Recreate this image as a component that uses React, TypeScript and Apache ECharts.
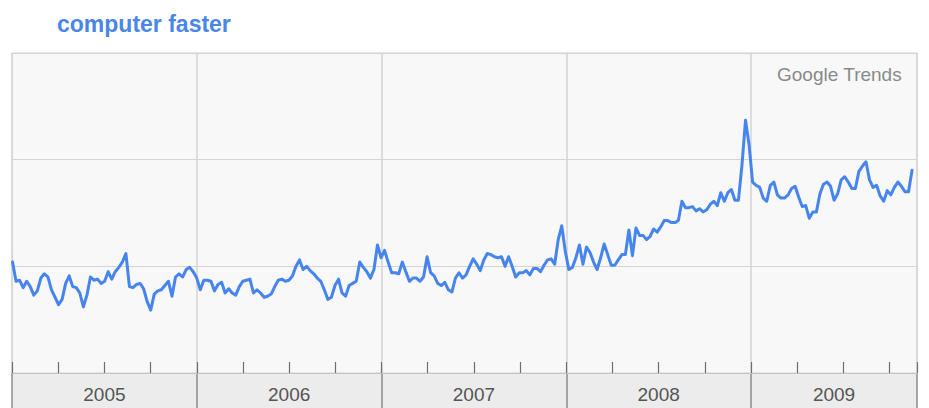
import React, { useEffect, useRef } from "react";
import * as echarts from "echarts";

// ---- data ----
const chartTitle = "computer faster";
const sourceLabel = "Google Trends";
const yearLabels = ["2005", "2006", "2007", "2008", "2009"];
const firstWeek = Date.UTC(2005, 0, 2); // first weekly sample (Sunday)
// relative search volume, one value per week
const weeklyInterest = [
  1.04, 0.86, 0.87, 0.80, 0.86, 0.81, 0.73, 0.77, 0.89, 0.93,
  0.90, 0.78, 0.71, 0.64, 0.69, 0.84, 0.91, 0.81, 0.80, 0.75,
  0.62, 0.73, 0.90, 0.87, 0.88, 0.84, 0.86, 0.95, 0.88, 0.95,
  0.99, 1.04, 1.12, 0.81, 0.80, 0.83, 0.84, 0.79, 0.67, 0.59,
  0.74, 0.77, 0.78, 0.82, 0.86, 0.72, 0.90, 0.93, 0.90, 0.97,
  0.99, 0.95,
  0.89, 0.78, 0.87, 0.87, 0.86, 0.77, 0.83, 0.85, 0.75, 0.79,
  0.75, 0.73, 0.81, 0.86, 0.87, 0.88, 0.75, 0.78, 0.75, 0.71,
  0.72, 0.74, 0.81, 0.87, 0.88, 0.86, 0.87, 0.91, 1.00, 1.06,
  0.97, 1.00, 0.96, 0.93, 0.89, 0.86, 0.78, 0.69, 0.71, 0.82,
  0.88, 0.75, 0.72, 0.82, 0.84, 0.86, 1.04, 0.99, 0.95, 0.89,
  0.97, 1.20,
  1.08, 1.15, 1.04, 0.94, 0.94, 0.93, 1.04, 0.95, 0.86, 0.89,
  0.89, 0.86, 0.90, 1.09, 0.94, 0.91, 0.84, 0.82, 0.85, 0.78,
  0.76, 0.89, 0.94, 0.89, 0.92, 1.00, 1.07, 1.02, 0.96, 1.06,
  1.12, 1.11, 1.09, 1.08, 1.09, 1.00, 1.09, 1.00, 0.90, 0.94,
  0.94, 0.96, 0.92, 0.98, 0.98, 0.95, 1.01, 1.06, 1.07, 1.02,
  1.25, 1.38,
  1.14, 0.97, 0.99, 1.08, 1.20, 1.02, 1.18, 1.13, 1.04, 0.97,
  1.08, 1.21, 1.11, 1.01, 1.01, 1.06, 1.11, 1.11, 1.34, 1.10,
  1.36, 1.29, 1.29, 1.25, 1.28, 1.35, 1.32, 1.37, 1.43, 1.43,
  1.41, 1.41, 1.43, 1.61, 1.55, 1.55, 1.56, 1.52, 1.54, 1.51,
  1.53, 1.58, 1.61, 1.57, 1.69, 1.61, 1.69, 1.72, 1.62, 1.62,
  1.95, 2.37,
  2.14, 1.79, 1.76, 1.74, 1.64, 1.61, 1.76, 1.79, 1.67, 1.64,
  1.64, 1.67, 1.73, 1.75, 1.65, 1.56, 1.57, 1.45, 1.51, 1.51,
  1.68, 1.77, 1.79, 1.75, 1.62, 1.68, 1.81, 1.84, 1.79, 1.73,
  1.73, 1.89, 1.94, 1.98, 1.81, 1.74, 1.76, 1.66, 1.61, 1.71,
  1.67, 1.74, 1.79, 1.75, 1.70, 1.70, 1.90,
];
const xMin = 2005;
const xMax = 2009.898;

const WEEK_MS = 7 * 24 * 3600 * 1000;
const FONT = '"Liberation Sans", Arial, Helvetica, sans-serif';

function yearFraction(ms: number): number {
  const d = new Date(ms);
  const y = d.getUTCFullYear();
  const s = Date.UTC(y, 0, 1);
  const e = Date.UTC(y + 1, 0, 1);
  return y + (ms - s) / (e - s);
}

export default function App() {
  const ref = useRef<HTMLDivElement>(null);

  useEffect(() => {
    if (!ref.current) return;
    const chart = echarts.init(ref.current, null, { renderer: "svg" });

    const lineData = weeklyInterest.map((v, i) => [
      yearFraction(firstWeek + i * WEEK_MS),
      v,
    ]);
    const bandData = yearLabels.map((_, i) => [
      xMin + i,
      Math.min(xMin + i + 1, xMax),
      0.5,
    ]);

    chart.setOption({
      animation: false,
      backgroundColor: "#ffffff",
      title: {
        text: chartTitle,
        left: 52,
        top: 7,
        textStyle: {
          color: "#4a86e8",
          fontSize: 23,
          fontWeight: "bold",
          fontFamily: FONT,
        },
      },
      graphic: [
        {
          type: "text",
          right: 27,
          top: 65,
          z: 10,
          style: {
            text: sourceLabel,
            fill: "#8a8a8a",
            fontSize: 19,
            fontFamily: FONT,
          },
        },
      ],
      grid: [
        {
          left: 12,
          right: 12,
          top: 53,
          height: 320,
          show: true,
          backgroundColor: "#f8f8f8",
          borderColor: "#d2d2d2",
          borderWidth: 1,
        },
        {
          left: 12,
          right: 12,
          top: 373,
          height: 35,
          show: true,
          backgroundColor: "#ececec",
          borderWidth: 0,
        },
      ],
      xAxis: [
        {
          type: "value",
          gridIndex: 0,
          min: xMin,
          max: xMax,
          interval: 0.25,
          axisLine: { show: true, lineStyle: { color: "#c4c4c4", width: 1 } },
          axisTick: {
            show: true,
            inside: true,
            length: 11,
            lineStyle: { color: "#6e6e6e", width: 1.2 },
          },
          axisLabel: { show: false },
          splitLine: { show: false },
        },
        {
          type: "value",
          gridIndex: 0,
          min: xMin,
          max: xMax,
          interval: 1,
          axisLine: { show: false },
          axisTick: { show: false },
          axisLabel: { show: false },
          splitLine: { show: true, lineStyle: { color: "#d4d4d4", width: 1.5 } },
        },
        {
          type: "value",
          gridIndex: 1,
          min: xMin,
          max: xMax,
          interval: 1,
          axisLine: { show: false },
          axisTick: { show: false },
          axisLabel: { show: false },
          splitLine: { show: true, lineStyle: { color: "#8c8c8c", width: 1.5 } },
        },
      ],
      yAxis: [
        {
          type: "value",
          gridIndex: 0,
          min: 0,
          max: 3,
          interval: 1,
          axisLine: { show: false },
          axisTick: { show: false },
          axisLabel: { show: false },
          splitLine: { show: true, lineStyle: { color: "#d4d4d4", width: 1 } },
        },
        {
          type: "value",
          gridIndex: 1,
          min: 0,
          max: 1,
          axisLine: { show: false },
          axisTick: { show: false },
          axisLabel: { show: false },
          splitLine: { show: false },
        },
      ],
      series: [
        {
          type: "line",
          xAxisIndex: 0,
          yAxisIndex: 0,
          data: lineData,
          showSymbol: false,
          symbol: "none",
          lineStyle: { color: "#4684ee", width: 3, join: "round", cap: "round" },
          z: 5,
        },
        {
          type: "custom",
          xAxisIndex: 2,
          yAxisIndex: 1,
          data: bandData,
          encode: { x: [0, 1], y: 2 },
          silent: true,
          clip: false,
          renderItem: (params: any, api: any) => {
            const a = api.coord([api.value(0), 1]);
            const b = api.coord([api.value(1), 0]);
            return {
              type: "text",
              x: (a[0] + b[0]) / 2,
              y: (a[1] + b[1]) / 2 + 4,
              style: {
                text: yearLabels[params.dataIndex],
                fill: "#555555",
                fontSize: 19,
                fontFamily: FONT,
                textAlign: "center",
                textVerticalAlign: "middle",
                align: "center",
                verticalAlign: "middle",
              },
            };
          },
        },
      ],
    });

    return () => chart.dispose();
  }, []);

  return (
    <div
      ref={ref}
      style={{ position: "absolute", left: 0, top: 0, width: 929, height: 408 }}
    />
  );
}
